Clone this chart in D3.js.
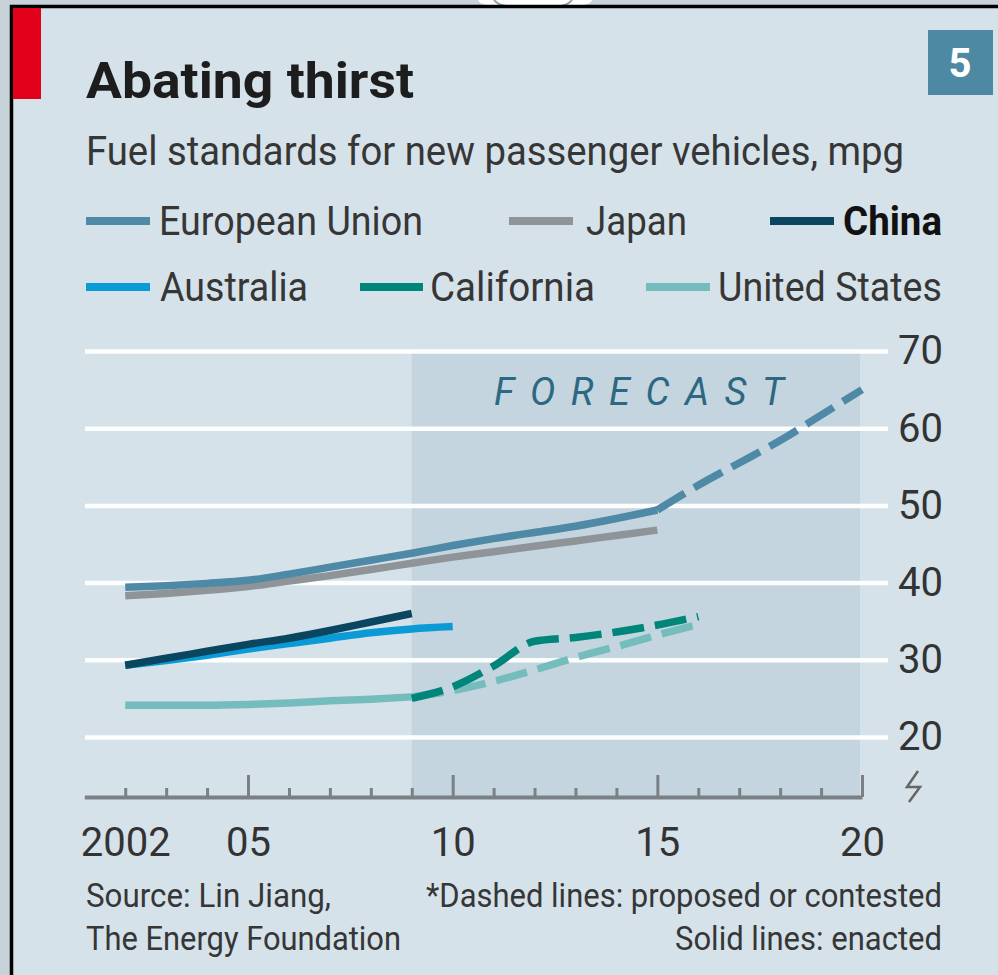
<!DOCTYPE html>
<html>
<head>
<meta charset="utf-8">
<script src="https://cdn.jsdelivr.net/npm/d3@7"></script>
<style>
body { margin: 0; background: #c7d2d9; }
svg { display: block; }
text { font-family: Roboto, "Open Sans", sans-serif; }
</style>
</head>
<body>
<div id="viz"></div>
<script>
// chart data (mpg)
const seriesNames = ["European Union", "Japan", "China", "Australia", "California", "United States"];
const seriesColors = ["#4e89a6", "#8f9499", "#0b4661", "#0a9bd6", "#00857a", "#74bdbc"];

const euEnactedYears = [2002, 2003, 2004, 2005, 2006, 2007, 2008, 2009, 2010, 2011, 2012, 2013, 2014, 2015];
const euEnacted = [39.4, 39.6, 39.9, 40.3, 41.1, 42.0, 42.9, 43.8, 44.8, 45.7, 46.5, 47.3, 48.3, 49.4];
const euProposedYears = [2015, 2016, 2017, 2018, 2019, 2020];
const euProposed = [49.4, 52.6, 55.5, 58.4, 61.7, 65.0];

const japanYears = [2002, 2003, 2004, 2005, 2006, 2007, 2008, 2009, 2010, 2011, 2012, 2013, 2014, 2015];
const japanEnacted = [38.3, 38.6, 39.0, 39.5, 40.2, 40.9, 41.7, 42.5, 43.3, 44.0, 44.7, 45.4, 46.1, 46.8];

const chinaYears = [2002, 2003, 2004, 2005, 2006, 2007, 2008, 2009];
const chinaEnacted = [29.3, 30.2, 31.1, 32.0, 32.8, 33.8, 34.9, 36.0];

const australiaYears = [2002, 2003, 2004, 2005, 2006, 2007, 2008, 2009, 2010];
const australiaEnacted = [29.3, 29.9, 30.6, 31.4, 32.1, 32.8, 33.5, 34.0, 34.3];

const usEnactedYears = [2002, 2003, 2004, 2005, 2006, 2007, 2008, 2009];
const usEnacted = [24.1, 24.1, 24.1, 24.2, 24.4, 24.7, 24.9, 25.2];
const usProposedYears = [2009, 2010, 2011, 2012, 2013, 2014, 2015, 2016];
const usProposed = [25.2, 26.0, 27.2, 28.7, 30.3, 31.7, 33.2, 34.6];

const californiaYears = [2009, 2010, 2011, 2012, 2013, 2014, 2015, 2016];
const californiaProposed = [25.0, 26.5, 29.2, 32.4, 32.9, 33.6, 34.5, 35.6];

const xTickYears = [2002, 2003, 2004, 2005, 2006, 2007, 2008, 2009, 2010, 2011, 2012, 2013, 2014, 2015, 2016, 2017, 2018, 2019, 2020];
const majorYears = [2005, 2010, 2015, 2020];
const yTicks = [20, 30, 40, 50, 60, 70];
const forecastStart = 2009;

const W = 998, H = 975;

const svg = d3.select("#viz")
  .append("svg")
  .attr("width", W)
  .attr("height", H);

// white blob at the top (bit of a logo cut off by the crop)
svg.append("path")
  .attr("d", "M478,0 Q480,6 500,6 L572,6 Q590,6 592,0 Z")
  .attr("fill", "#fff");
svg.append("path")
  .attr("d", "M494,0 Q498,5 506,6 M572,0 Q568,5 561,6")
  .attr("fill", "none")
  .attr("stroke", "#8aa3a3")
  .attr("stroke-width", 2);

// panel
svg.append("rect")
  .attr("x", 10).attr("y", 5)
  .attr("width", W - 10).attr("height", H - 5)
  .attr("fill", "#d5e2ea");
// black frame, top and left only
svg.append("path")
  .attr("d", `M11.5,${H} V6.5 H${W}`)
  .attr("fill", "none")
  .attr("stroke", "#000")
  .attr("stroke-width", 3.5);

// red tag
svg.append("rect")
  .attr("x", 13).attr("y", 8)
  .attr("width", 28).attr("height", 91)
  .attr("fill", "#e3001b");

// title + subtitle
svg.append("text")
  .attr("x", 86).attr("y", 98)
  .attr("font-size", 50)
  .attr("font-weight", "bold")
  .attr("fill", "#1d1d1d")
  .attr("textLength", 328)
  .attr("lengthAdjust", "spacingAndGlyphs")
  .text("Abating thirst");

svg.append("text")
  .attr("x", 86).attr("y", 165)
  .attr("font-size", 40)
  .attr("fill", "#363636")
  .attr("textLength", 818)
  .attr("lengthAdjust", "spacingAndGlyphs")
  .text("Fuel standards for new passenger vehicles, mpg");

// chart number box
svg.append("rect")
  .attr("x", 928).attr("y", 30)
  .attr("width", 65).attr("height", 65)
  .attr("fill", "#4e89a3");
svg.append("text")
  .attr("x", 960).attr("y", 77)
  .attr("text-anchor", "middle")
  .attr("font-size", 40)
  .attr("font-weight", "bold")
  .attr("fill", "#fff")
  .text("5");

// legend layout: [swatch start, swatch end, text start, text width, baseline]
const legendPos = [
  [86, 150, 159, 264, 235],
  [509, 573, 586, 101, 235],
  [770, 834, 843, 99, 235],
  [86, 150, 160, 148, 301],
  [360, 423, 430, 165, 301],
  [646, 710, 718, 224, 301]
];

const legend = svg.append("g").attr("class", "legend");
seriesNames.forEach(function(name, i) {
  const p = legendPos[i];
  legend.append("line")
    .attr("x1", p[0]).attr("x2", p[1])
    .attr("y1", p[4] - 14).attr("y2", p[4] - 14)
    .attr("stroke", seriesColors[i])
    .attr("stroke-width", 8);
  legend.append("text")
    .attr("x", p[2]).attr("y", p[4])
    .attr("font-size", 40)
    .attr("font-weight", name === "China" ? "bold" : "normal")
    .attr("fill", name === "China" ? "#111" : "#363636")
    .attr("textLength", p[3])
    .attr("lengthAdjust", "spacingAndGlyphs")
    .text(name);
});

// scales
const x = d3.scaleLinear().domain([2001, 2020]).range([84.3, 862]);
const y = d3.scaleLinear().domain([20, 70]).range([737, 351]);
const axisY = 797;

// forecast shading
svg.append("rect")
  .attr("x", x(forecastStart))
  .attr("y", y(70))
  .attr("width", x(2020) - x(forecastStart) - 2)
  .attr("height", axisY - y(70))
  .attr("fill", "#c4d5df");

svg.append("text")
  .attr("x", 494).attr("y", 405)
  .attr("font-size", 38)
  .attr("font-style", "italic")
  .attr("fill", "#2d6882")
  .attr("textLength", 290)
  .attr("lengthAdjust", "spacing")
  .text("FORECAST");

// gridlines + y labels
const gridRight = 888;
const yAxis = svg.append("g")
  .attr("transform", `translate(${gridRight},0)`)
  .call(d3.axisRight(y)
    .tickValues(yTicks)
    .tickSize(-(gridRight - 85))
    .tickPadding(10));
yAxis.select(".domain").remove();
yAxis.selectAll(".tick line")
  .attr("stroke", "#fff")
  .attr("stroke-width", 4.5)
  .attr("opacity", 0.95);
yAxis.selectAll(".tick text")
  .attr("font-size", 40)
  .attr("font-family", "Roboto, 'Open Sans', sans-serif")
  .attr("fill", "#333");

// x axis, ticks pointing up
const xAxis = svg.append("g")
  .attr("transform", `translate(0,${axisY})`)
  .call(d3.axisBottom(x)
    .tickValues(xTickYears)
    .tickSize(-9)
    .tickSizeOuter(0)
    .tickPadding(31)
    .tickFormat(d => d === 2002 ? "2002" : (majorYears.includes(d) ? String(d).slice(2) : "")));
xAxis.select(".domain")
  .attr("stroke", "#7b8086")
  .attr("stroke-width", 4);
xAxis.selectAll(".tick line")
  .attr("stroke", "#7b8086")
  .attr("stroke-width", 3)
  .attr("y2", d => majorYears.includes(d) ? -22 : -9);
xAxis.selectAll(".tick text")
  .attr("font-size", 40)
  .attr("font-family", "Roboto, 'Open Sans', sans-serif")
  .attr("fill", "#333");

// axis break mark
svg.append("path")
  .attr("d", "M918,771 L907,787 L920,787 L909,802")
  .attr("fill", "none")
  .attr("stroke", "#666")
  .attr("stroke-width", 2.5);

// lines, drawn back to front
const lineTable = [
  { years: japanYears, values: japanEnacted, color: seriesColors[1], dashed: false },
  { years: euEnactedYears, values: euEnacted, color: seriesColors[0], dashed: false },
  { years: euProposedYears, values: euProposed, color: seriesColors[0], dashed: true },
  { years: australiaYears, values: australiaEnacted, color: seriesColors[3], dashed: false },
  { years: chinaYears, values: chinaEnacted, color: seriesColors[2], dashed: false },
  { years: usEnactedYears, values: usEnacted, color: seriesColors[5], dashed: false },
  { years: usProposedYears, values: usProposed, color: seriesColors[5], dashed: true },
  { years: californiaYears, values: californiaProposed, color: seriesColors[4], dashed: true }
];

const line = d3.line()
  .x(d => x(d[0]))
  .y(d => y(d[1]))
  .curve(d3.curveMonotoneX);

svg.append("g")
  .selectAll("path")
  .data(lineTable)
  .enter()
  .append("path")
  .attr("d", d => line(d.years.map((yr, i) => [yr, d.values[i]])))
  .attr("fill", "none")
  .attr("stroke", d => d.color)
  .attr("stroke-width", 7.5)
  .attr("stroke-linejoin", "round")
  .attr("stroke-dasharray", d => d.dashed ? "32,11" : null);

// footer
const foot = svg.append("g")
  .attr("font-size", 33)
  .attr("fill", "#363636");
foot.append("text").attr("x", 86).attr("y", 907)
  .attr("textLength", 245).attr("lengthAdjust", "spacingAndGlyphs")
  .text("Source: Lin Jiang,");
foot.append("text").attr("x", 86).attr("y", 950)
  .attr("textLength", 315).attr("lengthAdjust", "spacingAndGlyphs")
  .text("The Energy Foundation");
foot.append("text").attr("x", 942).attr("y", 907)
  .attr("text-anchor", "end")
  .attr("textLength", 516).attr("lengthAdjust", "spacingAndGlyphs")
  .text("*Dashed lines: proposed or contested");
foot.append("text").attr("x", 942).attr("y", 950)
  .attr("text-anchor", "end")
  .attr("textLength", 267).attr("lengthAdjust", "spacingAndGlyphs")
  .text("Solid lines: enacted");
</script>
</body>
</html>
